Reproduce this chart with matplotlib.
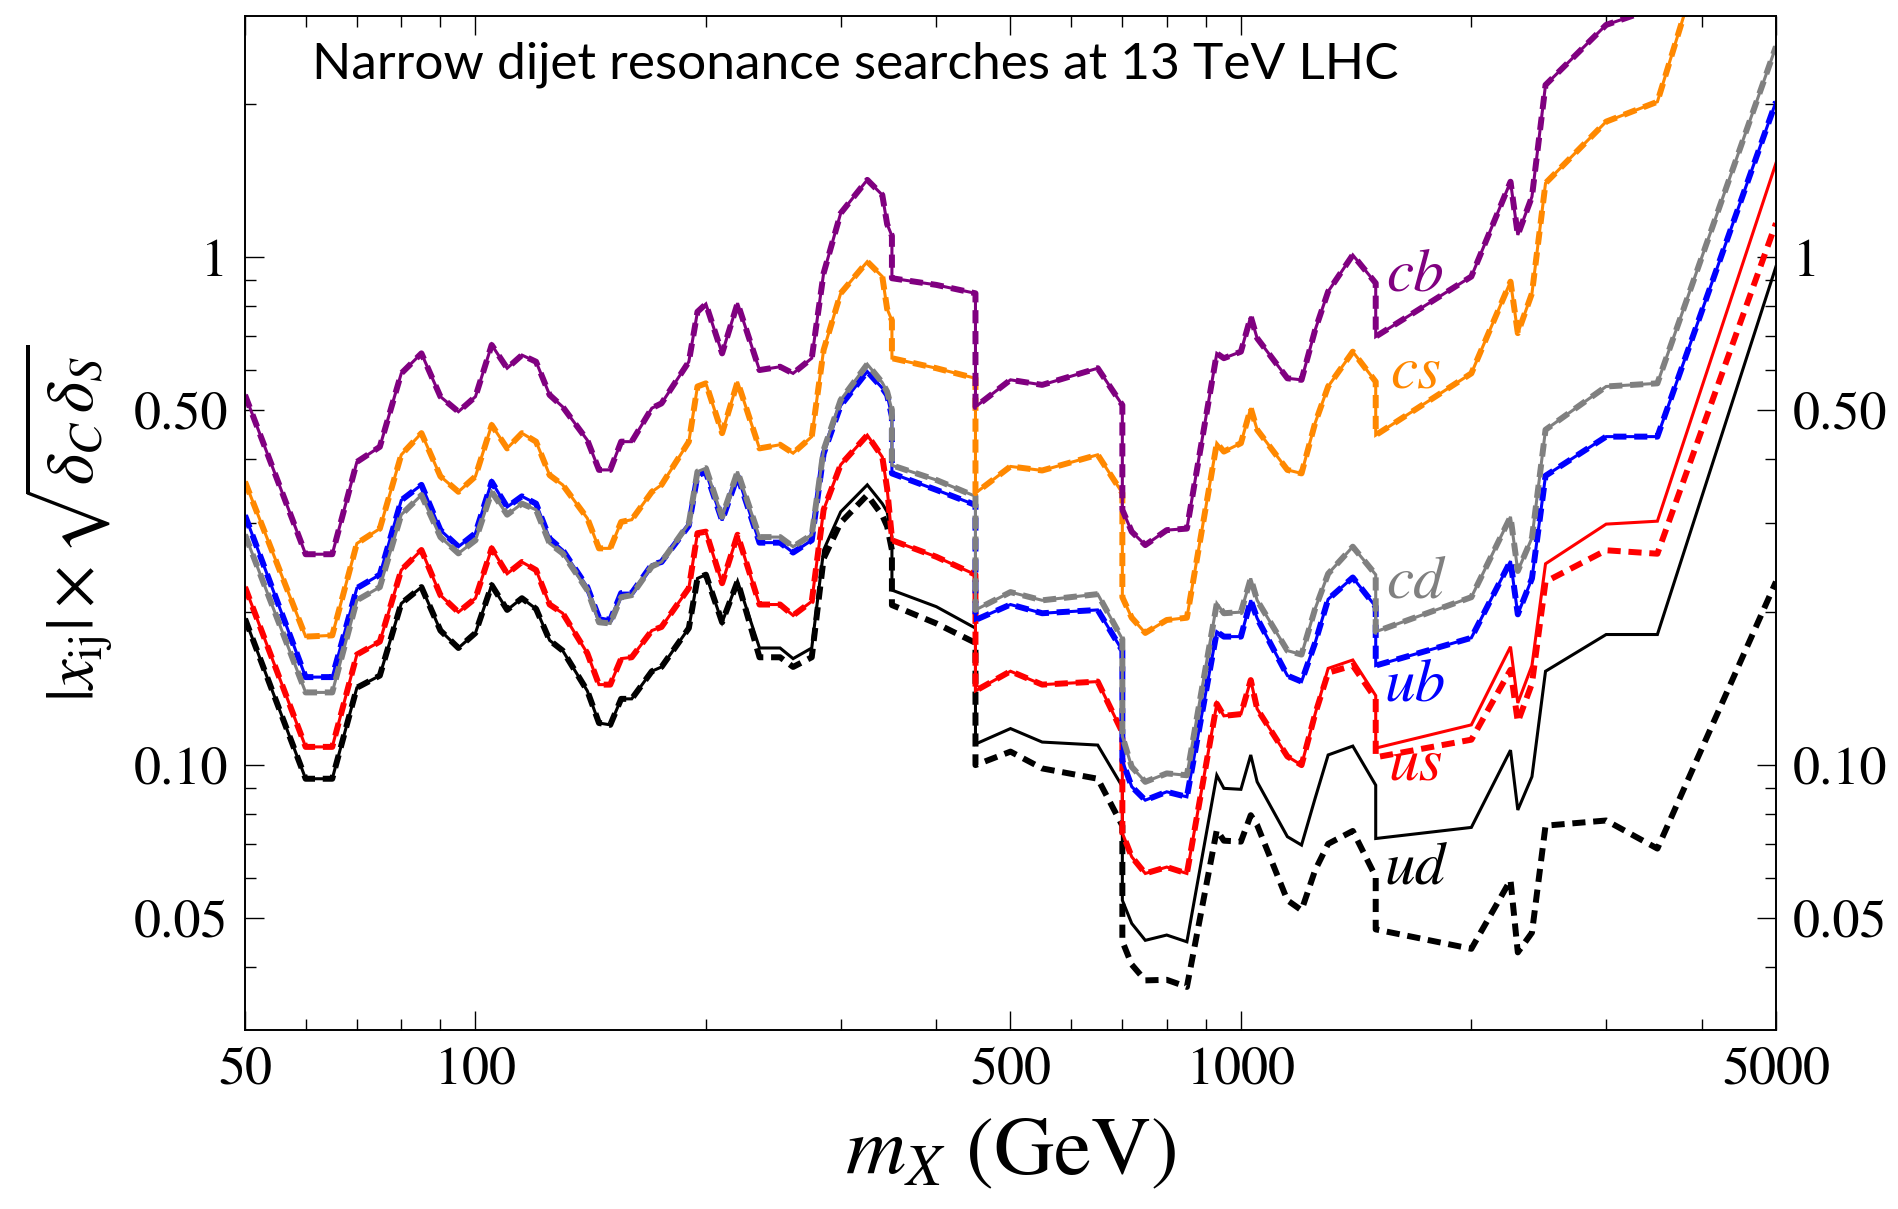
import matplotlib
matplotlib.use('Agg')
import matplotlib.pyplot as plt
from matplotlib.ticker import FixedLocator, FixedFormatter, NullFormatter

plt.rcParams['mathtext.fontset'] = 'stix'
plt.rcParams['font.family'] = 'STIXGeneral'

# resonance mass grid (GeV); repeated values are the steps between searches
mass = [50, 60, 65, 70, 75, 80, 85, 90, 95, 100,
        105, 110, 115, 120, 125, 130, 140, 145, 150, 155,
        160, 170, 175, 190, 195, 200, 210, 220, 235, 250,
        260, 275, 285, 300, 325, 340, 345, 350, 350, 400,
        450, 450, 500, 550, 650, 700, 700, 720, 750, 800,
        850, 930, 950, 1000, 1030, 1050, 1150, 1200, 1250, 1300,
        1400, 1500, 1500, 2000, 2250, 2300, 2400, 2500, 3000, 3500,
        5000]

cb = [0.535, 0.260, 0.260, 0.395, 0.423, 0.590, 0.646, 0.531, 0.496, 0.531,
      0.671, 0.604, 0.641, 0.622, 0.535, 0.507, 0.436, 0.381, 0.381, 0.433,
      0.433, 0.504, 0.515, 0.622, 0.780, 0.808, 0.646, 0.811, 0.599, 0.608,
      0.590, 0.632, 0.929, 1.219, 1.418, 1.324, 1.16, 1.10, 0.908, 0.881,
      0.848, 0.507, 0.573, 0.560, 0.604, 0.511, 0.318, 0.288, 0.271, 0.290,
      0.292, 0.646, 0.632, 0.651, 0.763, 0.692, 0.577, 0.573, 0.718, 0.855,
      1.009, 0.888, 0.697, 0.915, 1.406, 1.105, 1.314, 2.18, 2.862, 3.1,
      18.0]

cs = [0.361, 0.179, 0.180, 0.273, 0.292, 0.408, 0.450, 0.370, 0.345, 0.370,
      0.467, 0.420, 0.450, 0.433, 0.372, 0.356, 0.306, 0.267, 0.267, 0.301,
      0.304, 0.345, 0.356, 0.433, 0.556, 0.564, 0.450, 0.568, 0.420, 0.427,
      0.411, 0.443, 0.656, 0.848, 0.979, 0.915, 0.79, 0.75, 0.632, 0.604,
      0.577, 0.343, 0.387, 0.380, 0.408, 0.343, 0.214, 0.195, 0.182, 0.193,
      0.195, 0.430, 0.414, 0.430, 0.504, 0.457, 0.381, 0.375, 0.471, 0.556,
      0.651, 0.568, 0.446, 0.590, 0.894, 0.708, 0.848, 1.397, 1.846, 2.02,
      11.6]

cd = [0.284, 0.139, 0.139, 0.211, 0.224, 0.311, 0.340, 0.281, 0.261, 0.277,
      0.345, 0.311, 0.327, 0.318, 0.273, 0.261, 0.221, 0.191, 0.190, 0.214,
      0.216, 0.246, 0.251, 0.299, 0.378, 0.384, 0.308, 0.378, 0.281, 0.281,
      0.269, 0.284, 0.417, 0.523, 0.615, 0.566, 0.543, 0.50, 0.389, 0.364,
      0.338, 0.202, 0.219, 0.211, 0.217, 0.177, 0.114, 0.0992, 0.0927, 0.0963,
      0.0955, 0.208, 0.199, 0.200, 0.233, 0.211, 0.168, 0.165, 0.203, 0.238,
      0.269, 0.237, 0.183, 0.214, 0.308, 0.241, 0.280, 0.457, 0.556, 0.564,
      2.594]

ub = [0.310, 0.149, 0.149, 0.223, 0.237, 0.332, 0.356, 0.290, 0.269, 0.286,
      0.361, 0.322, 0.338, 0.327, 0.279, 0.265, 0.224, 0.195, 0.193, 0.218,
      0.218, 0.248, 0.251, 0.296, 0.372, 0.377, 0.303, 0.371, 0.274, 0.274,
      0.262, 0.277, 0.410, 0.510, 0.595, 0.552, 0.535, 0.485, 0.375, 0.348,
      0.325, 0.193, 0.207, 0.199, 0.202, 0.168, 0.102, 0.0907, 0.0853, 0.0886,
      0.0866, 0.183, 0.179, 0.179, 0.211, 0.1945, 0.150, 0.146, 0.174, 0.212,
      0.234, 0.205, 0.157, 0.178, 0.252, 0.198, 0.233, 0.371, 0.443, 0.443,
      2.02]

us = [0.224, 0.1086, 0.1086, 0.165, 0.175, 0.242, 0.265, 0.216, 0.200, 0.213,
      0.267, 0.238, 0.251, 0.242, 0.207, 0.199, 0.166, 0.144, 0.144, 0.162,
      0.163, 0.184, 0.187, 0.223, 0.286, 0.288, 0.228, 0.284, 0.207, 0.207,
      0.197, 0.210, 0.318, 0.390, 0.446, 0.404, 0.35, 0.28, 0.277, 0.257,
      0.237, 0.140, 0.153, 0.144, 0.146, 0.116, 0.0735, 0.066, 0.0612, 0.063,
      0.0612, 0.132, 0.125, 0.126, 0.147, 0.129, 0.104, 0.100, 0.126, 0.155,
      0.161, 0.137, 0.108, 0.120, 0.171, 0.1325, 0.157, 0.249, 0.298, 0.302,
      1.529]

us_dashed = [0.224, 0.1086, 0.1086, 0.165, 0.175, 0.242, 0.265, 0.216, 0.200, 0.213,
             0.267, 0.238, 0.251, 0.242, 0.207, 0.199, 0.166, 0.144, 0.144, 0.162,
             0.163, 0.184, 0.187, 0.223, 0.286, 0.288, 0.228, 0.284, 0.207, 0.207,
             0.197, 0.210, 0.318, 0.390, 0.446, 0.404, 0.35, 0.28, 0.277, 0.257,
             0.237, 0.140, 0.153, 0.144, 0.146, 0.116, 0.0735, 0.066, 0.0612, 0.063,
             0.0612, 0.132, 0.125, 0.126, 0.147, 0.129, 0.104, 0.100, 0.126, 0.152,
             0.157, 0.135, 0.1036, 0.1122, 0.154, 0.1216, 0.1447, 0.2295, 0.2647, 0.2606,
             1.165]

ud = [0.194, 0.094, 0.094, 0.142, 0.150, 0.208, 0.224, 0.184, 0.170, 0.182,
      0.226, 0.202, 0.213, 0.203, 0.176, 0.168, 0.140, 0.121, 0.120, 0.135,
      0.135, 0.153, 0.156, 0.186, 0.233, 0.237, 0.191, 0.230, 0.170, 0.170,
      0.162, 0.170, 0.265, 0.315, 0.356, 0.327, 0.315, 0.281, 0.221, 0.205,
      0.186, 0.110, 0.118, 0.111, 0.1095, 0.0907, 0.0542, 0.0488, 0.0452, 0.0463,
      0.0449, 0.0955, 0.090, 0.0896, 0.1047, 0.0927, 0.0723, 0.0696, 0.086, 0.1047,
      0.109, 0.0913, 0.0717, 0.0754, 0.107, 0.0816, 0.0949, 0.153, 0.1807, 0.1807,
      0.957]

ud_dashed = [0.194, 0.094, 0.094, 0.142, 0.150, 0.208, 0.224, 0.184, 0.170, 0.182,
             0.226, 0.202, 0.213, 0.203, 0.176, 0.168, 0.140, 0.121, 0.120, 0.135,
             0.135, 0.153, 0.156, 0.186, 0.233, 0.237, 0.191, 0.230, 0.163, 0.163,
             0.156, 0.163, 0.255, 0.300, 0.340, 0.310, 0.295, 0.265, 0.2065, 0.190,
             0.174, 0.100, 0.1063, 0.0985, 0.094, 0.076, 0.045, 0.0405, 0.0377, 0.0378,
             0.0366, 0.0745, 0.071, 0.0707, 0.0797, 0.0762, 0.0542, 0.0518, 0.0621, 0.070,
             0.0742, 0.0603, 0.0475, 0.0435, 0.0594, 0.0428, 0.0468, 0.076, 0.0778, 0.0685,
             0.2295]

# (solid, dashed, colour, label, label position)
curves = [
    (ud, ud_dashed, 'black', 'ud', (1690, 0.0624)),
    (us, us_dashed, '#ff0000', 'us', (1690, 0.100)),
    (ub, ub, '#0000ff', 'ub', (1690, 0.143)),
    (cd, cd, '#808080', 'cd', (1690, 0.228)),
    (cs, cs, '#ff8800', 'cs', (1690, 0.591)),
    (cb, cb, '#800080', 'cb', (1690, 0.917)),
]

fig = plt.figure(figsize=(18.98, 12.09), dpi=100)
ax = fig.add_axes([0.1291, 0.148, 0.8066, 0.8388])

for solid, dashed, col, name, (lx, ly) in curves:
    ax.plot(mass, solid, color=col, lw=2.2, solid_joinstyle='miter')
    ax.plot(mass, dashed, color=col, lw=4.3, dashes=(2.2, 1.3))
    ax.text(lx, ly, name, color=col, fontsize=44, style='italic',
            family='STIXGeneral', ha='center', va='center')

ax.set_xscale('log')
ax.set_yscale('log')
ax.set_xlim(50, 5000)
ax.set_ylim(0.0301, 2.98)

ax.xaxis.set_major_locator(FixedLocator([50, 100, 500, 1000, 5000]))
ax.xaxis.set_major_formatter(FixedFormatter(['50', '100', '500', '1000', '5000']))
ax.xaxis.set_minor_locator(FixedLocator([60, 70, 80, 90, 200, 300, 400,
                                         600, 700, 800, 900, 2000, 3000, 4000]))
ax.xaxis.set_minor_formatter(NullFormatter())
ax.yaxis.set_major_locator(FixedLocator([0.05, 0.1, 0.5, 1]))
ax.yaxis.set_major_formatter(FixedFormatter(['0.05', '0.10', '0.50', '1']))
ax.yaxis.set_minor_locator(FixedLocator([0.04, 0.06, 0.07, 0.08, 0.09, 0.2, 0.3,
                                         0.4, 0.6, 0.7, 0.8, 0.9, 2]))
ax.yaxis.set_minor_formatter(NullFormatter())

ax.tick_params(which='both', direction='in', top=True, right=True,
               labelright=True, width=1.0, labelsize=39, pad=12)
ax.tick_params(which='major', length=14)
ax.tick_params(which='minor', length=8)
for sp in ax.spines.values():
    sp.set_linewidth(1.4)

ax.set_xlabel(r'$m_X$ (GeV)', fontsize=60, labelpad=16)
ax.set_ylabel(r'$|x_{\rm ij}|\times\sqrt{\delta_C\,\delta_S}$', fontsize=48, labelpad=14)

ax.text(0.044, 0.975, 'Narrow dijet resonance searches at 13 TeV LHC',
        transform=ax.transAxes, fontsize=37, family='Lato', va='top', ha='left')

fig.savefig('out.png', dpi=100)
